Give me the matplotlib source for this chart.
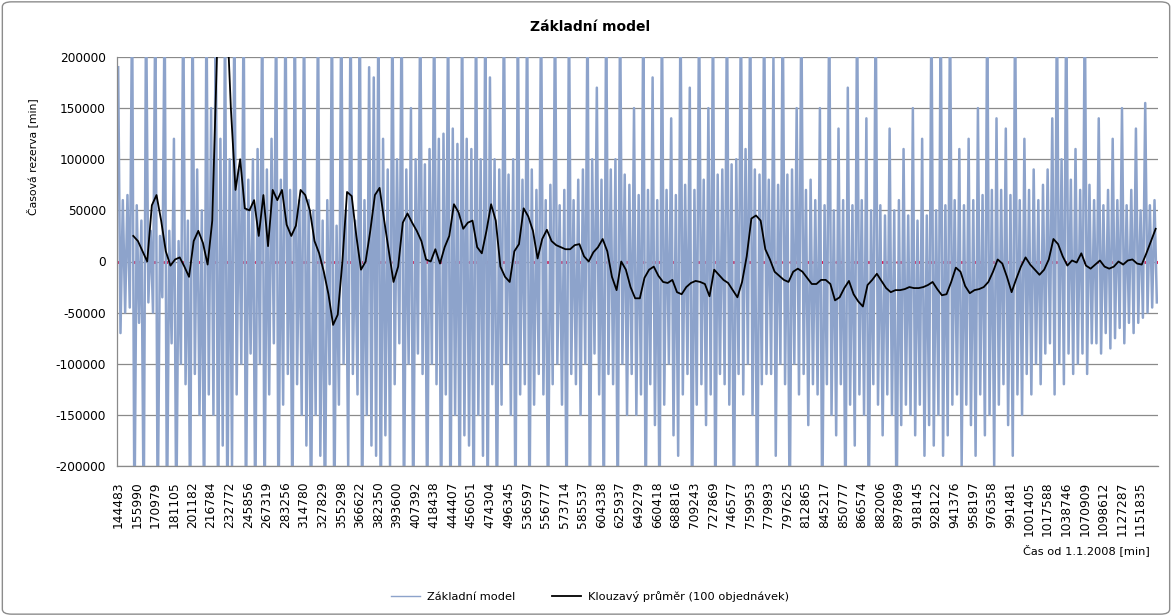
import numpy as np
import matplotlib
matplotlib.use("Agg")
import matplotlib.pyplot as plt
from matplotlib.patches import FancyBboxPatch

plt.rcParams['font.family'] = ['DejaVu Sans']

title = "Základní model"
y_label = "Časová rezerva [min]"
x_label = "Čas od 1.1.2008 [min]"
series_names = ["Základní model", "Klouzavý průměr (100 objednávek)"]

tick_labels = [
    "144483", "155990", "170979", "181105", "201182", "216784", "232772", "245856",
    "267319", "283256", "314780", "327829", "355298", "366622", "382350", "393600",
    "407392", "418438", "444407", "456051", "474304", "496345", "536597", "556777",
    "573714", "585537", "604338", "625937", "649279", "660418", "688816", "709243",
    "727869", "746577", "759953", "779893", "797625", "812865", "845217", "850777",
    "866574", "882006", "897869", "918145", "928122", "941376", "958197", "976358",
    "991481", "1001405", "1017588", "1038746", "1070909", "1098612", "1127287", "1151835",
]

# Základní model (values in thousands of minutes), read as alternating peaks / troughs
base_k = [
    190, -70, 60, -50, 65, -45, 260, -260, 55, -60, 40, -260, 260, -40, 30, -50, 260, -260, 25, -35,
    260, -260, 30, -80, 120, -260, 20, -100, 260, -120, 40, -260, 260, -110, 90, -150, 50, -260, 260, -130,
    150, -150, 260, -260, 120, -180, 260, -260, 100, -200, 260, -130, 90, -100, 260, -260, 80, -90, 100, -260,
    110, -100, 260, -260, 90, -130, 120, -80, 260, -260, 80, -140, 260, -110, 70, -260, 260, -120, 60, -150,
    260, -180, 60, -260, 50, -150, 260, -190, 40, -260, 60, -120, 260, -260, 35, -140, 260, -100, 50, -200,
    260, -110, 40, -130, 260, -260, 60, -150, 190, -180, 180, -190, 260, -260, 120, -170, 90, -200, 260, -120,
    100, -80, 260, -260, 90, -100, 150, -260, 100, -90, 260, -110, 95, -260, 110, -100, 260, -120, 120, -260,
    125, -130, 260, -260, 130, -150, 115, -260, 260, -170, 120, -180, 110, -260, 260, -150, 100, -190, 260, -260,
    180, -120, 100, -260, 90, -140, 260, -100, 85, -150, 100, -260, 260, -130, 80, -120, 260, -260, 90, -140,
    70, -110, 260, -130, 60, -260, 75, -120, 260, -100, 55, -140, 70, -260, 260, -110, 60, -120, 80, -150,
    90, -100, 260, -260, 100, -90, 170, -130, 80, -260, 260, -110, 90, -120, 100, -260, 260, -100, 85, -150,
    75, -110, 150, -150, 65, -130, 260, -260, 70, -120, 180, -160, 60, -260, 260, -140, 70, -100, 140, -170,
    65, -190, 260, -130, 75, -110, 170, -260, 70, -140, 260, -120, 80, -160, 150, -130, 260, -260, 85, -110,
    90, -120, 260, -140, 95, -260, 100, -110, 260, -130, 110, -100, 260, -150, 90, -260, 85, -120, 260, -110,
    80, -110, 200, -190, 75, -100, 260, -120, 85, -260, 90, -100, 150, -130, 260, -110, 70, -160, 80, -120,
    60, -130, 150, -260, 55, -120, 260, -150, 50, -170, 130, -120, 60, -260, 170, -140, 55, -180, 260, -130,
    60, -150, 140, -260, 50, -120, 260, -140, 55, -170, 45, -130, 130, -150, 50, -260, 60, -160, 110, -140,
    45, -150, 150, -170, 40, -140, 120, -190, 45, -160, 260, -180, 50, -150, 260, -190, 55, -170, 260, -140,
    60, -130, 110, -200, 55, -140, 120, -160, 60, -190, 150, -130, 65, -170, 260, -150, 70, -200, 140, -140,
    70, -120, 130, -160, 65, -190, 260, -130, 60, -150, 120, -110, 70, -130, 90, -100, 60, -120, 75, -90,
    90, -80, 140, -130, 260, -100, 100, -120, 260, -90, 80, -110, 110, -100, 70, -90, 260, -110, 75, -80,
    60, -80, 140, -90, 55, -70, 70, -85, 120, -75, 60, -65, 150, -80, 55, -60, 70, -70, 130, -60,
    50, -55, 155, -50, 55, -45, 60, -40,
]

nan = float('nan')
# Klouzavý průměr (thousands of minutes), one value per two categories
moving_avg_k = [
    nan, nan, nan, 25, 20, 10, 0, 55, 65, 40,
    10, -4, 2, 4, -5, -15, 20, 30, 18, -3,
    40, 200, 260, 260, 150, 70, 100, 52, 50, 60,
    25, 65, 15, 70, 60, 70, 36, 25, 35, 70,
    65, 50, 20, 8, -10, -32, -62, -52, 0, 68,
    64, 25, -8, 0, 30, 65, 72, 40, 10, -20,
    -5, 38, 47, 38, 30, 20, 2, 0, 12, -2,
    14, 25, 56, 48, 32, 38, 40, 14, 8, 30,
    56, 40, -5, -15, -20, 10, 17, 52, 44, 30,
    3, 22, 31, 20, 16, 14, 12, 12, 16, 17,
    5, 0, 9, 14, 22, 10, -15, -28, 0, -8,
    -25, -36, -36, -16, -8, -5, -14, -20, -21, -18,
    -30, -32, -25, -21, -19, -20, -22, -34, -8, -13,
    -18, -21, -28, -35, -20, 5, 42, 45, 40, 12,
    2, -10, -14, -18, -20, -10, -7, -10, -16, -22,
    -22, -18, -18, -22, -38, -35, -26, -19, -32, -39,
    -44, -23, -18, -12, -19, -26, -30, -28, -28, -27,
    -25, -26, -26, -25, -23, -20, -27, -33, -32, -20,
    -6, -10, -24, -31, -28, -27, -25, -20, -10, 2,
    -2, -15, -30, -17, -5, 4, -3, -8, -13, -8,
    2, 22, 17, 5, -4, 1, -1, 8, -4, -7,
    -3, 1, -5, -7, -5, 0, -3, 1, 2, -2,
    -3, 8, 20, 32,
]

y_ticks = [-200000, -150000, -100000, -50000, 0, 50000, 100000, 150000, 200000]

base = np.array(base_k, dtype=float) * 1000
ma = np.array(moving_avg_k, dtype=float) * 1000
n = len(base)
x_base = np.arange(n)
x_ma = np.arange(len(ma)) * (n / len(ma)) + 0.5
step = n // len(tick_labels)

fig = plt.figure(figsize=(11.72, 6.16), dpi=100)
ax = fig.add_axes([117 / 1172, 1 - 466 / 616, (1158 - 117) / 1172, (466 - 57) / 616])

ax.set_ylim(-200000, 200000)
ax.set_xlim(-0.5, n - 0.5)
ax.set_yticks(y_ticks)
ax.set_yticklabels([str(v) for v in y_ticks], fontsize=8.7)
ax.set_xticks(np.arange(0, n, step))
ax.set_xticklabels(tick_labels, rotation=90, fontsize=8.8)
ax.tick_params(axis='both', length=0, colors='black')
ax.tick_params(axis='x', pad=11)
ax.tick_params(axis='y', pad=8)

ax.grid(axis='y', color='#8a8a8a', linewidth=0.9, zorder=0)
ax.set_axisbelow(True)
for s in ['top', 'right']:
    ax.spines[s].set_visible(False)
for s in ['left', 'bottom']:
    ax.spines[s].set_color('#8a8a8a')
    ax.spines[s].set_linewidth(0.9)

ax.axhline(0, color='#e8003a', linewidth=2.0, dashes=(3, 2.5), zorder=1)
ax.plot(x_base, base, color='#8da3cb', linewidth=1.8, zorder=2, label=series_names[0])
ax.plot(x_ma, ma, color='black', linewidth=1.3, zorder=3, label=series_names[1])

fig.text(590 / 1172, 1 - 27 / 616, title, ha='center', va='center', fontsize=10, fontweight='bold')
fig.text(32 / 1172, 1 - 157 / 616, y_label, ha='center', va='center', rotation=90, fontsize=7.8)
fig.text(1150 / 1172, 1 - 550 / 616, x_label, ha='right', va='center', fontsize=8.2)

handles, labels = ax.get_legend_handles_labels()
leg = fig.legend(handles, labels, loc='center', bbox_to_anchor=(590 / 1172, 1 - 596 / 616), ncol=2,
                 frameon=False, fontsize=8.2, handlelength=2.6, columnspacing=3.2, handletextpad=0.6)
leg.get_lines()[0].set_linewidth(1.0)

border = FancyBboxPatch((0.002, 0.003), 0.996, 0.994, boxstyle="round,pad=0,rounding_size=0.008",
                        transform=fig.transFigure, fill=False, edgecolor='#8c8c8c', linewidth=1.0)
fig.patches.append(border)

fig.savefig("out.png", dpi=100)
